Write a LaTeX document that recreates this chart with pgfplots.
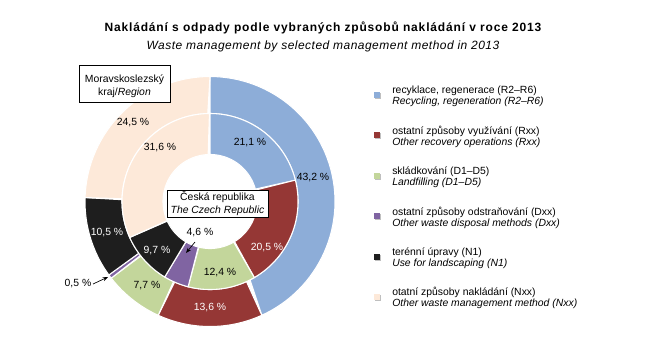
\documentclass[border=0pt]{standalone}
\usepackage{pgfplots}
\pgfplotsset{compat=1.18}
\usepackage{fontspec}
\setmainfont{Liberation Sans}
\newfontfamily\titlefont[LetterSpace=7]{Liberation Sans}
\newfontfamily\subtitlefont[LetterSpace=4]{Liberation Sans}
\usetikzlibrary{arrows.meta}

\definecolor{cBlue}{RGB}{141,173,216}
\definecolor{cRed}{RGB}{149,55,53}
\definecolor{cGreen}{RGB}{195,214,155}
\definecolor{cPurple}{RGB}{128,100,162}
\definecolor{cBlack}{RGB}{30,30,30}
\definecolor{cPeach}{RGB}{253,233,217}

% ring segment: r_in, r_out, start (%), value (%), colour
\newcommand{\seg}[5]{%
  \addplot[fill=#5, draw=white, line width=0.8pt, domain=0:2, samples=121, variable=\t]
  ({210+((\t<=1)?#2:#1)*cos(90-3.6*(#3+#4*((\t<=1)?\t:(2-\t))))},
   {160.5+((\t<=1)?#2:#1)*sin(90-3.6*(#3+#4*((\t<=1)?\t:(2-\t))))}) -- cycle;
}
\newcommand{\lab}{\fontsize{7.8}{9}\selectfont}
\newcommand{\legentry}[4]{%
  \fill[black!25] (axis cs:375,{#1-9}) rectangle (axis cs:381,{#1-3});
  \fill[#2] (axis cs:374,{#1-8}) rectangle (axis cs:380,{#1-2});
  \node[font=\lab, anchor=base west, inner sep=0] at (axis cs:392,{#1-3.8}) {#3};
  \node[font=\lab\itshape, anchor=base west, inner sep=0] at (axis cs:392,{#1-14.8}) {#4};
}

\begin{document}
\begin{tikzpicture}
\useasboundingbox (0,0) rectangle (483.75pt,271.5pt);
\begin{axis}[at={(0,0)}, anchor=south west, x=0.75pt, y=0.75pt,
  xmin=0, xmax=645, ymin=0, ymax=362, hide axis, clip=false, scale only axis]
% outer ring: Moravskoslezsky kraj
\seg{88}{125}{0}{43.2}{cBlue}
\seg{88}{125}{43.2}{13.6}{cRed}
\seg{88}{125}{56.8}{7.7}{cGreen}
\seg{88}{125}{64.5}{0.5}{cPurple}
\seg{88}{125}{65.0}{10.5}{cBlack}
\seg{88}{125}{75.5}{24.5}{cPeach}
% inner ring: Ceska republika
\seg{47}{88}{0}{21.1}{cBlue}
\seg{47}{88}{21.1}{20.5}{cRed}
\seg{47}{88}{41.6}{12.4}{cGreen}
\seg{47}{88}{54.0}{4.6}{cPurple}
\seg{47}{88}{58.6}{9.7}{cBlack}
\seg{47}{88}{68.3}{31.6}{cPeach}

% data labels
\node[font=\lab] at (axis cs:133,239) {24,5 \%};
\node[font=\lab] at (axis cs:160,214) {31,6 \%};
\node[font=\lab] at (axis cs:250,219) {21,1 \%};
\node[font=\lab] at (axis cs:313,184) {43,2 \%};
\node[font=\lab, text=white] at (axis cs:267,114) {20,5 \%};
\node[font=\lab] at (axis cs:220,89) {12,4 \%};
\node[font=\lab, text=white] at (axis cs:210,54) {13,6 \%};
\node[font=\lab] at (axis cs:147,76) {7,7 \%};
\node[font=\lab, text=white] at (axis cs:107,129) {10,5 \%};
\node[font=\lab, text=white] at (axis cs:157,111) {9,7 \%};
\node[font=\lab] at (axis cs:200,129) {4,6 \%};
\node[font=\lab] at (axis cs:78,78) {0,5 \%};
\draw[-{Stealth[length=4pt,width=3pt]}, line width=0.5pt] (axis cs:195,120) -- (axis cs:186,109);
\draw[-{Stealth[length=4pt,width=3pt]}, line width=0.5pt] (axis cs:93,78) -- (axis cs:108,85);

% boxes
\draw[fill=white, line width=0.6pt] (axis cs:79,260) rectangle (axis cs:170,297);
\node[font=\lab] at (axis cs:124.5,282) {Moravskoslezský};
\node[font=\lab] at (axis cs:124.5,269) {kraj/\textit{Region}};
\draw[fill=white, line width=0.6pt] (axis cs:167,145) rectangle (axis cs:268,172);
\node[font=\lab] at (axis cs:217.5,165) {Česká republika};
\node[font=\lab] at (axis cs:217.5,151) {\textit{The Czech Republic}};

% title
\node[font=\titlefont\fontsize{9}{10}\selectfont\bfseries] at (axis cs:323,334) {Nakládání s odpady podle vybraných způsobů nakládání v roce 2013};
\node[font=\subtitlefont\fontsize{9}{10}\selectfont\itshape] at (axis cs:323,316) {Waste management by selected management method in 2013};

% legend
\legentry{272}{cBlue}{recyklace, regenerace (R2–R6)}{Recycling, regeneration (R2–R6)}
\legentry{231.6}{cRed}{ostatní způsoby využívání (Rxx)}{Other recovery operations (Rxx)}
\legentry{191.2}{cGreen}{skládkování (D1–D5)}{Landfilling (D1–D5)}
\legentry{150.8}{cPurple}{ostatní způsoby odstraňování (Dxx)}{Other waste disposal methods (Dxx)}
\legentry{110.4}{cBlack}{terénní úpravy (N1)}{Use for landscaping (N1)}
\legentry{70}{cPeach}{otatní způsoby nakládání (Nxx)}{Other waste management method (Nxx)}
\end{axis}
\end{tikzpicture}
\end{document}
